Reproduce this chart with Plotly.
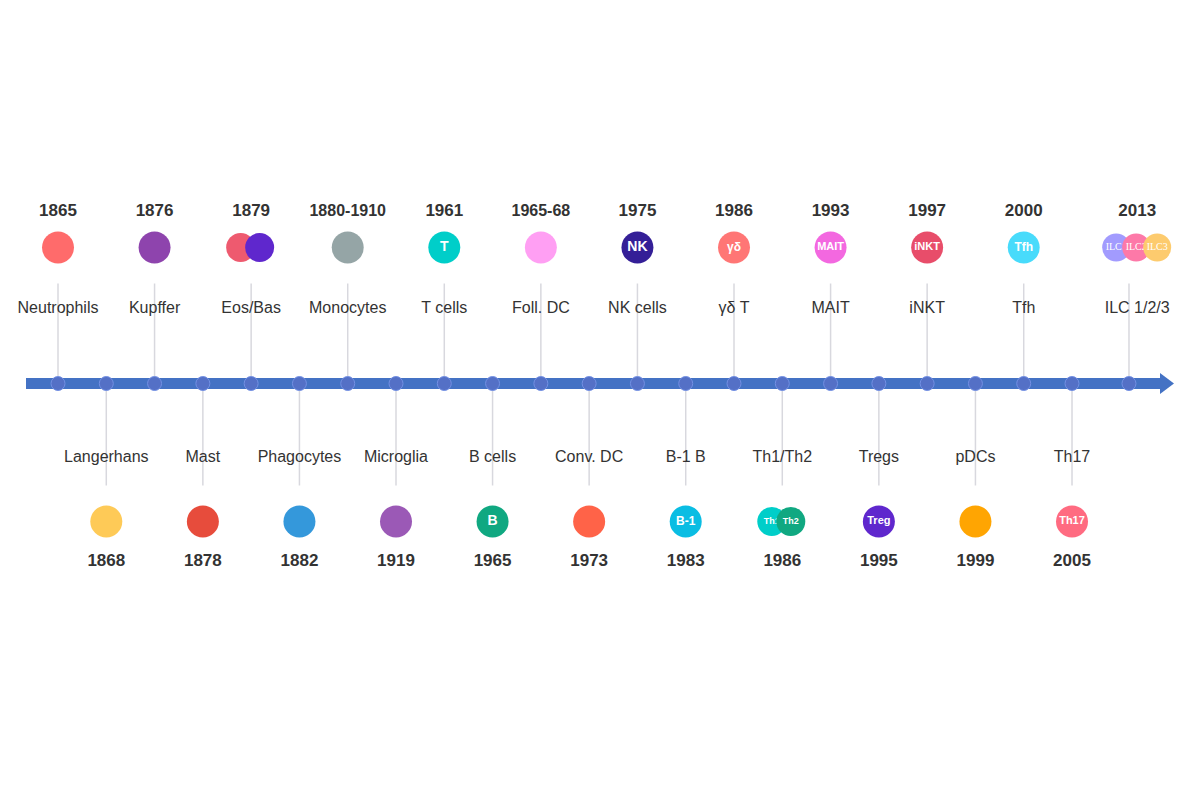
import plotly.graph_objects as go

# timeline events, left to right (even index = above axis, odd = below)
names = ["Neutrophils", "Langerhans", "Kupffer", "Mast", "Eos/Bas", "Phagocytes",
         "Monocytes", "Microglia", "T cells", "B cells", "Foll. DC", "Conv. DC",
         "NK cells", "B-1 B", "γδ T", "Th1/Th2", "MAIT", "Tregs", "iNKT", "pDCs",
         "Tfh", "Th17", "ILC 1/2/3"]
years = ["1865", "1868", "1876", "1878", "1879", "1882", "1880-1910", "1919",
         "1961", "1965", "1965-68", "1973", "1975", "1983", "1986", "1986",
         "1993", "1995", "1997", "1999", "2000", "2005", "2013"]
badges = [[""], [""], [""], [""], ["", ""], [""], [""], [""], ["T"], ["B"], [""], [""],
          ["NK"], ["B-1"], ["γδ"], ["Th1", "Th2"], ["MAIT"], ["Treg"], ["iNKT"], [""],
          ["Tfh"], ["Th17"], ["ILC1", "ILC2", "ILC3"]]
colors = [["#ff6b6b"], ["#feca57"], ["#8e44ad"], ["#e74c3c"], ["#ee5a6f", "#5f27cd"],
          ["#3498db"], ["#95a5a6"], ["#9b59b6"], ["#00cec9"], ["#10a881"], ["#ff9ff3"],
          ["#ff6348"], ["#341f97"], ["#0abde3"], ["#ff7675"], ["#00cec9", "#10a881"],
          ["#f368e0"], ["#5f27cd"], ["#e84d6a"], ["#ffa502"], ["#48dbfb"], ["#ff6b81"],
          ["#a29bfe", "#fd79a8", "#fdcb6e"]]

# layout (pixels, page body adds an 8px margin)
W, H = 1200, 799
PAD = 8
SLOT = 48.286          # px between events
X0 = 58 - PAD          # px of first event inside the figure
AXIS = 383.5 - PAD     # px from top of the axis line
FONT = "Liberation Sans, Arial, sans-serif"
TXT = "#333333"

badge_size = {"T": 14, "NK": 14, "B": 14, "γδ": 12, "Tfh": 12, "B-1": 12,
              "MAIT": 11, "iNKT": 11, "Treg": 11, "Th17": 11, "Th1": 9, "Th2": 9,
              "ILC1": 10, "ILC2": 10, "ILC3": 10}
offsets = {1: [0], 2: [-10.5, 8.5], 3: [-21, -1, 20]}
circle_d = {1: 32, 2: 29, 3: 28}

n = len(names)
side = [1 if i % 2 == 0 else -1 for i in range(n)]
stem_x = [float(i) for i in range(n)]
stem_x[-1] += 0.18      # last event sits a little further out
label_x = list(stem_x)
label_x[-1] += 0.17


def px(v):
    return v / SLOT


fig = go.Figure()

# stems
sx, sy = [], []
for i in range(n):
    sx += [stem_x[i], stem_x[i], None]
    sy += [0, 100 if side[i] > 0 else -102, None]
fig.add_trace(go.Scatter(x=sx, y=sy, mode="lines",
                         line=dict(color="#d8d8de", width=1.5)))

# axis with arrow
fig.add_trace(go.Scatter(x=[px(26 - 58), px(1161 - 58)], y=[0, 0], mode="lines",
                         line=dict(color="#4472c4", width=11)))
fig.add_trace(go.Scatter(x=[px(1160 - 58), px(1174 - 58), px(1160 - 58), px(1160 - 58)],
                         y=[10.5, 0, -10.5, 10.5], mode="lines", fill="toself",
                         fillcolor="#4472c4", line=dict(width=0)))
fig.add_trace(go.Scatter(x=stem_x, y=[0] * n, mode="markers",
                         marker=dict(size=14, color="#5470c6", opacity=1,
                                     line=dict(color="#7390e3", width=1))))

# cell circles, drawn layer by layer so later circles cover earlier labels
for k in range(3):
    cx, cy, cc, ct, cs, cf, cd = [], [], [], [], [], [], []
    for i in range(n):
        m = len(colors[i])
        if k >= m:
            continue
        cx.append(label_x[i] + px(offsets[m][k]))
        cy.append(136 if side[i] > 0 else -138)
        cc.append(colors[i][k])
        t = badges[i][k]
        ct.append(f"<b>{t}</b>" if t and not t.startswith("ILC") else t)
        cs.append(badge_size.get(t, 12))
        cf.append("Liberation Serif, serif" if t.startswith("ILC") else FONT)
        cd.append(circle_d[m])
    fig.add_trace(go.Scatter(x=cx, y=cy, mode="markers+text", text=ct,
                             textposition="middle center",
                             textfont=dict(color="white", size=cs, family=cf),
                             marker=dict(size=cd, color=cc, opacity=1,
                                         line=dict(width=0))))

# years
fig.add_trace(go.Scatter(
    x=label_x, y=[172 if s > 0 else -178 for s in side], mode="text",
    text=[f"<b>{y}</b>" for y in years],
    textfont=dict(color=TXT, family=FONT,
                  size=[16 if "-" in y else 17 for y in years])))

# names
fig.add_trace(go.Scatter(
    x=label_x, y=[75 if s > 0 else -74 for s in side], mode="text",
    text=names, textfont=dict(color=TXT, family=FONT, size=16)))

fig.update_traces(hoverinfo="skip", showlegend=False)
fig.update_xaxes(visible=False, range=[px(-X0), px(W - X0)])
fig.update_yaxes(visible=False, range=[AXIS - H, AXIS])
fig.update_layout(width=W, height=H, margin=dict(l=0, r=0, t=0, b=0),
                  plot_bgcolor="white", paper_bgcolor="white",
                  font=dict(family=FONT))

fig.write_html("out.html")
